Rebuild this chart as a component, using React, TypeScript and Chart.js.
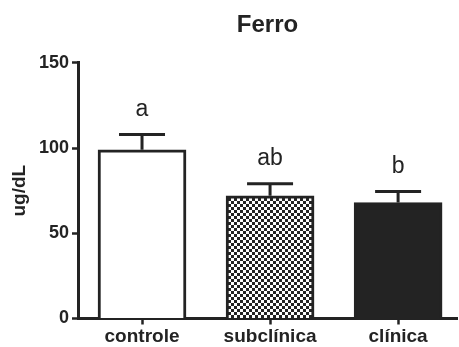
import React, { useEffect, useRef } from "react";
import { Chart, registerables } from "chart.js";

Chart.register(...registerables);

const categories = ["controle", "subclínica", "clínica"];
const means = [99, 72, 68];
const sems = [9, 7, 6.5];
const letters = ["a", "ab", "b"];
const yTicks = [0, 50, 100, 150];

const INK = "#232323";
const FONT = "'Liberation Sans', Arial, sans-serif";

function makeChecker(): CanvasPattern | string {
  const c = document.createElement("canvas");
  c.width = 6;
  c.height = 6;
  const g = c.getContext("2d");
  if (!g) return "#888";
  g.fillStyle = "#ffffff";
  g.fillRect(0, 0, 6, 6);
  g.fillStyle = INK;
  g.fillRect(0, 0, 3, 3);
  g.fillRect(3, 3, 3, 3);
  const ctx = document.createElement("canvas").getContext("2d");
  return (ctx && ctx.createPattern(c, "repeat")) || "#888";
}

const errorPlugin = {
  id: "errbars",
  afterDatasetsDraw(chart: any) {
    const ctx = chart.ctx;
    const meta = chart.getDatasetMeta(0);
    const ys = chart.scales.y;
    ctx.save();
    ctx.strokeStyle = INK;
    ctx.lineWidth = 3;
    meta.data.forEach((bar: any, i: number) => {
      const top = ys.getPixelForValue(means[i]);
      const cap = ys.getPixelForValue(means[i] + sems[i]);
      ctx.beginPath();
      ctx.moveTo(bar.x, top);
      ctx.lineTo(bar.x, cap);
      ctx.moveTo(bar.x - 23, cap);
      ctx.lineTo(bar.x + 23, cap);
      ctx.stroke();
      ctx.fillStyle = INK;
      ctx.font = `23px ${FONT}`;
      ctx.textAlign = "center";
      ctx.textBaseline = "middle";
      ctx.fillText(letters[i], bar.x, cap - 25);
    });
    ctx.restore();
  },
};

export default function App() {
  const ref = useRef<HTMLCanvasElement>(null);
  useEffect(() => {
    if (!ref.current) return;
    const checker = makeChecker();
    const chart = new Chart(ref.current, {
      type: "bar",
      data: {
        datasets: [
          {
            data: means.map((m, i) => ({ x: i, y: m })),
            backgroundColor: ["#ffffff", checker as any, INK],
            borderColor: INK,
            borderWidth: 3,
            barThickness: 88,
          },
        ],
      },
      plugins: [errorPlugin],
      options: {
        animation: false,
        responsive: false,
        maintainAspectRatio: false,
        layout: { padding: { left: 0, right: 2, top: 0, bottom: 0 } },
        plugins: {
          legend: { display: false },
          tooltip: { enabled: false },
          title: {
            display: true,
            fullSize: false,
            text: "Ferro",
            color: INK,
            font: { family: FONT, size: 24, weight: "bold" },
            padding: { top: 11, bottom: 23 },
          },
        },
        scales: {
          x: {
            type: "linear",
            offset: false,
            min: -0.5,
            max: 2.46,
            afterBuildTicks: (s: any) => {
              s.ticks = categories.map((_, i) => ({ value: i }));
            },
            afterFit: (s: any) => {
              s.height = 28.5;
            },
            ticks: {
              color: INK,
              font: { family: FONT, size: 19, weight: "bold" },
              padding: 1,
              callback: (v: any) => categories[v] ?? "",
              maxRotation: 0,
              autoSkip: false,
            },
            grid: {
              offset: false,
              drawOnChartArea: false,
              drawTicks: true,
              tickLength: 6,
              tickColor: INK,
              tickWidth: 2.5,
            },
            border: { display: true, color: INK, width: 3 },
          },
          y: {
            min: 0,
            max: 150,
            afterBuildTicks: (s: any) => {
              s.ticks = yTicks.map((v) => ({ value: v }));
            },
            afterFit: (s: any) => {
              s.width = 78;
            },
            ticks: {
              color: INK,
              font: { family: FONT, size: 18, weight: "bold" },
              padding: 3,
            },
            grid: {
              drawOnChartArea: false,
              drawTicks: true,
              tickLength: 6,
              tickColor: INK,
              tickWidth: 2.5,
            },
            border: { display: true, color: INK, width: 3 },
            title: {
              display: true,
              text: "ug/dL",
              color: INK,
              font: { family: FONT, size: 19, weight: "bold" },
              padding: { top: 8, bottom: 0 },
            },
          },
        },
      },
    });
    return () => chart.destroy();
  }, []);
  return (
    <div style={{ position: "absolute", left: 0, top: 0, width: 459, height: 347, background: "#fff" }}>
      <canvas ref={ref} width={459} height={347} style={{ width: 459, height: 347 }} />
    </div>
  );
}
